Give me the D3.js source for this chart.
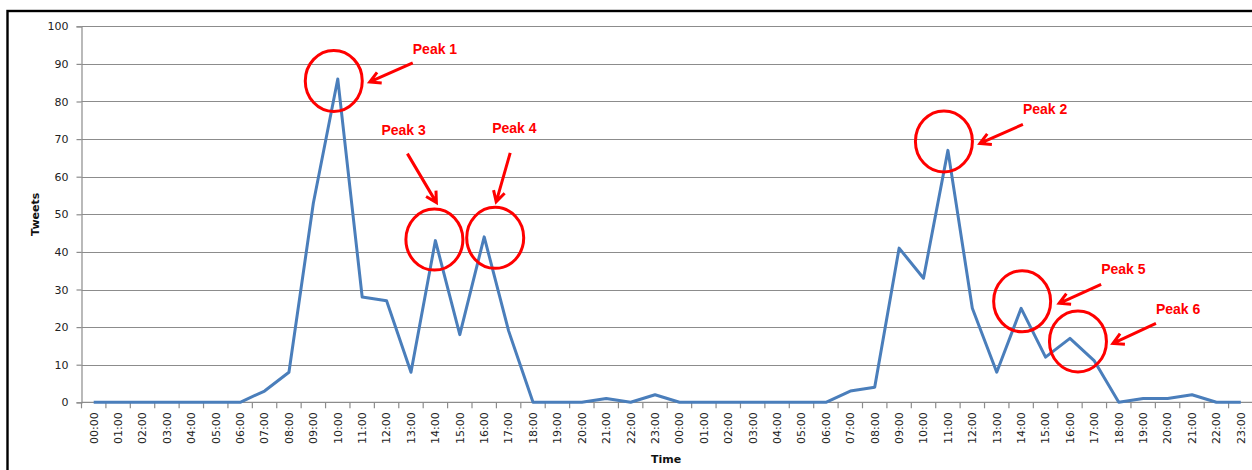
<!DOCTYPE html>
<html>
<head>
<meta charset="utf-8">
<script src="https://cdn.jsdelivr.net/npm/d3@7"></script>
<style>
  body { margin: 0; background: #fff; }
  svg { display: block; }
</style>
</head>
<body>
<svg width="1252" height="470"></svg>
<script>
// hourly tweet counts over two days
var hours = ["00:00", "01:00", "02:00", "03:00", "04:00", "05:00", "06:00", "07:00",
  "08:00", "09:00", "10:00", "11:00", "12:00", "13:00", "14:00", "15:00",
  "16:00", "17:00", "18:00", "19:00", "20:00", "21:00", "22:00", "23:00"];
var categories = hours.concat(hours);

var day1 = [0, 0, 0, 0, 0, 0, 0, 3, 8, 53, 86, 28, 27, 8, 43, 18, 44, 19, 0, 0, 0, 1, 0, 2];
var day2 = [0, 0, 0, 0, 0, 0, 0, 3, 4, 41, 33, 67, 25, 8, 25, 12, 17, 11, 0, 1, 1, 2, 0, 0];
var tweets = day1.concat(day2);

var yTicks = [0, 10, 20, 30, 40, 50, 60, 70, 80, 90, 100];

// peaks: index into the series and label
var peakIndex = [10, 35, 14, 16, 38, 40];
var peakLabels = ["Peak 1", "Peak 2", "Peak 3", "Peak 4", "Peak 5", "Peak 6"];

// annotation layout, offsets from the data point in px
var peakLayout = [
  { cdx: -4, cdy: 2, lx: 75, ly: -30, ax1: 75, ay1: -16, ax2: 32, ay2: 3 },
  { cdx: -4, cdy: -9, lx: 75, ly: -41, ax1: 75, ay1: -26, ax2: 32, ay2: -7 },
  { cdx: -1, cdy: -1, lx: -54, ly: -111, ax1: -28, ay1: -87, ax2: 1, ay2: -38 },
  { cdx: 11, cdy: 1, lx: 8, ly: -109, ax1: 26, ay1: -84, ax2: 12, ay2: -35 },
  { cdx: 1, cdy: -7, lx: 80, ly: -39, ax1: 80, ay1: -24, ax2: 38, ay2: -5 },
  { cdx: 8, cdy: 3, lx: 86, ly: -29, ax1: 86, ay1: -15, ax2: 43, ay2: 5 }
];

var svg = d3.select("svg");
var plotL = 81.5, plotR = 1253, plotT = 26.3, plotB = 402.3;

var x = d3.scaleBand()
  .domain(d3.range(categories.length))
  .range([plotL, plotR])
  .paddingInner(0).paddingOuter(0);

var y = d3.scaleLinear()
  .domain([0, 100])
  .range([plotB, plotT]);

function cx(i) { return x(i) + x.bandwidth() / 2; }

// outer frame
svg.append("rect")
  .attr("x", 7.5).attr("y", 11)
  .attr("width", 1400).attr("height", 600)
  .style("fill", "none").style("stroke", "#000").style("stroke-width", 2.4);

// gridlines
svg.append("g").selectAll("line")
  .data(yTicks.slice(1))
  .enter().append("line")
  .attr("x1", plotL).attr("x2", plotR)
  .attr("y1", function(d) { return Math.round(y(d)) + 0.5; })
  .attr("y2", function(d) { return Math.round(y(d)) + 0.5; })
  .style("stroke", "#8c8c8c").style("stroke-width", 1.2);

// y axis
var yAxis = svg.append("g")
  .attr("transform", "translate(" + plotL + ",0)")
  .call(d3.axisLeft(y).tickValues(yTicks).tickSize(5).tickPadding(8));
yAxis.select(".domain").style("stroke", "#8c8c8c").style("stroke-width", 1.2);
yAxis.selectAll(".tick line").style("stroke", "#8c8c8c").style("stroke-width", 1.2);
yAxis.selectAll("text")
  .style("font-family", "DejaVu Sans").style("font-size", "11px").style("fill", "#222");

// x axis, labels at category centers
var xAxis = svg.append("g")
  .attr("transform", "translate(0," + plotB + ")")
  .call(d3.axisBottom(x).tickSize(0).tickFormat(function(i) { return categories[i]; }));
xAxis.select(".domain").remove();
xAxis.append("line")
  .attr("x1", plotL).attr("x2", plotR).attr("y1", 0).attr("y2", 0)
  .style("stroke", "#8c8c8c").style("stroke-width", 1.2);
xAxis.selectAll("text")
  .attr("transform", "rotate(-90)")
  .attr("text-anchor", "end")
  .attr("x", -10).attr("y", 0).attr("dy", "0.35em")
  .style("font-family", "DejaVu Sans").style("font-size", "11px").style("fill", "#222");

// x tick marks between categories
xAxis.selectAll("line.boundary")
  .data(d3.range(categories.length + 1))
  .enter().append("line")
  .attr("class", "boundary")
  .attr("x1", function(i) { return i < categories.length ? x(i) : plotR; })
  .attr("x2", function(i) { return i < categories.length ? x(i) : plotR; })
  .attr("y1", 0).attr("y2", 6)
  .style("stroke", "#8c8c8c").style("stroke-width", 1.2);

// axis titles
svg.append("text")
  .attr("transform", "translate(35," + (plotT + plotB) / 2 + ") rotate(-90)")
  .attr("text-anchor", "middle").attr("dy", "0.35em")
  .style("font-family", "DejaVu Sans").style("font-weight", "bold")
  .style("font-size", "11px").style("fill", "#111")
  .text("Tweets");

svg.append("text")
  .attr("x", 666).attr("y", 459)
  .attr("text-anchor", "middle").attr("dy", "0.35em")
  .style("font-family", "DejaVu Sans").style("font-weight", "bold")
  .style("font-size", "11px").style("fill", "#111")
  .text("Time");

// series line
var line = d3.line()
  .x(function(d, i) { return cx(i); })
  .y(function(d) { return y(d); });

svg.append("path")
  .datum(tweets)
  .attr("d", line)
  .style("fill", "none")
  .style("stroke", "#4A7EBB")
  .style("stroke-width", 3)
  .style("stroke-linejoin", "round");

// peak annotations
var red = "#FF0000";
var ann = svg.append("g");
peakIndex.forEach(function(idx, k) {
  var px = cx(idx), py = y(tweets[idx]), L = peakLayout[k];
  ann.append("ellipse")
    .attr("cx", px + L.cdx).attr("cy", py + L.cdy)
    .attr("rx", 28.5).attr("ry", 30.5)
    .style("fill", "none").style("stroke", red).style("stroke-width", 3);

  var x1 = px + L.ax1, y1 = py + L.ay1, x2 = px + L.ax2, y2 = py + L.ay2;
  var ang = Math.atan2(y2 - y1, x2 - x1), len = 12, spread = 0.5;
  ann.append("path")
    .attr("d", "M" + x1 + "," + y1 + "L" + x2 + "," + y2 +
      "M" + (x2 - len * Math.cos(ang - spread)) + "," + (y2 - len * Math.sin(ang - spread)) +
      "L" + x2 + "," + y2 +
      "L" + (x2 - len * Math.cos(ang + spread)) + "," + (y2 - len * Math.sin(ang + spread)))
    .style("fill", "none").style("stroke", red).style("stroke-width", 3)
    .style("stroke-linejoin", "miter");

  ann.append("text")
    .attr("x", px + L.lx).attr("y", py + L.ly)
    .attr("dy", "0.35em")
    .style("font-family", "Liberation Sans").style("font-weight", "bold")
    .style("font-size", "14px").style("fill", red)
    .text(peakLabels[k]);
});
</script>
</body>
</html>
